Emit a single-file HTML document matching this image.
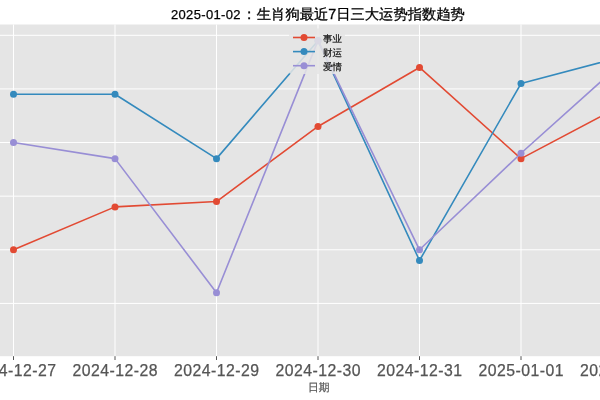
<!DOCTYPE html>
<html><head><meta charset="utf-8"><style>
html,body{margin:0;padding:0;background:#fff;width:600px;height:400px;overflow:hidden}
svg{display:block}
text{font-family:"Liberation Sans","WenQuanYi Zen Hei",sans-serif}
.tk{font-size:15.8px;fill:#555;stroke:#555;stroke-width:0.25px}
.xl{font-size:10.8px;fill:#555;stroke:#555;stroke-width:0.2px}
.tt{font-size:13px;fill:#000;stroke:#000;stroke-width:0.25px}
.tt .cj{font-size:14.3px;stroke-width:0.3px}
.lg{font-size:9.5px;fill:#111;stroke:#111;stroke-width:0.2px}
</style></head><body>
<svg width="600" height="400" viewBox="0 0 600 400">
<rect x="-17" y="24.5" width="670" height="331.70" fill="#E5E5E5"/>
<line x1="-17" x2="653" y1="303.40" y2="303.40" stroke="#fff" stroke-width="1"/>
<line x1="-17" x2="653" y1="249.78" y2="249.78" stroke="#fff" stroke-width="1"/>
<line x1="-17" x2="653" y1="196.16" y2="196.16" stroke="#fff" stroke-width="1"/>
<line x1="-17" x2="653" y1="142.54" y2="142.54" stroke="#fff" stroke-width="1"/>
<line x1="-17" x2="653" y1="88.92" y2="88.92" stroke="#fff" stroke-width="1"/>
<line x1="-17" x2="653" y1="35.30" y2="35.30" stroke="#fff" stroke-width="1"/>
<line x1="13.5" x2="13.5" y1="24.5" y2="356.2" stroke="#fff" stroke-width="1"/>
<line x1="115.0" x2="115.0" y1="24.5" y2="356.2" stroke="#fff" stroke-width="1"/>
<line x1="216.5" x2="216.5" y1="24.5" y2="356.2" stroke="#fff" stroke-width="1"/>
<line x1="318.0" x2="318.0" y1="24.5" y2="356.2" stroke="#fff" stroke-width="1"/>
<line x1="419.5" x2="419.5" y1="24.5" y2="356.2" stroke="#fff" stroke-width="1"/>
<line x1="521.0" x2="521.0" y1="24.5" y2="356.2" stroke="#fff" stroke-width="1"/>
<line x1="622.5" x2="622.5" y1="24.5" y2="356.2" stroke="#fff" stroke-width="1"/>
<line x1="13.5" x2="13.5" y1="356.2" y2="360.0" stroke="#555" stroke-width="1"/>
<line x1="115.0" x2="115.0" y1="356.2" y2="360.0" stroke="#555" stroke-width="1"/>
<line x1="216.5" x2="216.5" y1="356.2" y2="360.0" stroke="#555" stroke-width="1"/>
<line x1="318.0" x2="318.0" y1="356.2" y2="360.0" stroke="#555" stroke-width="1"/>
<line x1="419.5" x2="419.5" y1="356.2" y2="360.0" stroke="#555" stroke-width="1"/>
<line x1="521.0" x2="521.0" y1="356.2" y2="360.0" stroke="#555" stroke-width="1"/>
<line x1="622.5" x2="622.5" y1="356.2" y2="360.0" stroke="#555" stroke-width="1"/>
<polyline points="13.50,249.78 115.00,206.88 216.50,201.52 318.00,126.45 419.50,67.47 521.00,158.63 622.50,105.01" fill="none" stroke="#E24A33" stroke-width="1.6" stroke-linejoin="round" stroke-linecap="butt"/>
<circle cx="13.50" cy="249.78" r="3.5" fill="#E24A33"/>
<circle cx="115.00" cy="206.88" r="3.5" fill="#E24A33"/>
<circle cx="216.50" cy="201.52" r="3.5" fill="#E24A33"/>
<circle cx="318.00" cy="126.45" r="3.5" fill="#E24A33"/>
<circle cx="419.50" cy="67.47" r="3.5" fill="#E24A33"/>
<circle cx="521.00" cy="158.63" r="3.5" fill="#E24A33"/>
<circle cx="622.50" cy="105.01" r="3.5" fill="#E24A33"/>
<polyline points="13.50,94.28 115.00,94.28 216.50,158.63 318.00,40.66 419.50,260.50 521.00,83.56 622.50,56.75" fill="none" stroke="#348ABD" stroke-width="1.6" stroke-linejoin="round" stroke-linecap="butt"/>
<circle cx="13.50" cy="94.28" r="3.5" fill="#348ABD"/>
<circle cx="115.00" cy="94.28" r="3.5" fill="#348ABD"/>
<circle cx="216.50" cy="158.63" r="3.5" fill="#348ABD"/>
<circle cx="318.00" cy="40.66" r="3.5" fill="#348ABD"/>
<circle cx="419.50" cy="260.50" r="3.5" fill="#348ABD"/>
<circle cx="521.00" cy="83.56" r="3.5" fill="#348ABD"/>
<circle cx="622.50" cy="56.75" r="3.5" fill="#348ABD"/>
<polyline points="13.50,142.54 115.00,158.63 216.50,292.68 318.00,40.66 419.50,249.78 521.00,153.26 622.50,62.11" fill="none" stroke="#988ED5" stroke-width="1.6" stroke-linejoin="round" stroke-linecap="butt"/>
<circle cx="13.50" cy="142.54" r="3.5" fill="#988ED5"/>
<circle cx="115.00" cy="158.63" r="3.5" fill="#988ED5"/>
<circle cx="216.50" cy="292.68" r="3.5" fill="#988ED5"/>
<circle cx="318.00" cy="40.66" r="3.5" fill="#988ED5"/>
<circle cx="419.50" cy="249.78" r="3.5" fill="#988ED5"/>
<circle cx="521.00" cy="153.26" r="3.5" fill="#988ED5"/>
<circle cx="622.50" cy="62.11" r="3.5" fill="#988ED5"/>
<rect x="289" y="28.5" width="56" height="45.5" rx="2.5" fill="#E5E5E5" fill-opacity="0.85"/>
<line x1="293" x2="315" y1="37.5" y2="37.5" stroke="#E24A33" stroke-width="1.6"/>
<circle cx="304" cy="37.5" r="3.5" fill="#E24A33"/>
<text x="323" y="41.8" class="lg cj">事业</text>
<line x1="293" x2="315" y1="51.6" y2="51.6" stroke="#348ABD" stroke-width="1.6"/>
<circle cx="304" cy="51.6" r="3.5" fill="#348ABD"/>
<text x="323" y="55.9" class="lg cj">财运</text>
<line x1="293" x2="315" y1="65.7" y2="65.7" stroke="#988ED5" stroke-width="1.6"/>
<circle cx="304" cy="65.7" r="3.5" fill="#988ED5"/>
<text x="323" y="70.0" class="lg cj">爱情</text>
<text x="13.5" y="375.6" class="tk" text-anchor="middle" textLength="85" lengthAdjust="spacing">2024-12-27</text>
<text x="115.0" y="375.6" class="tk" text-anchor="middle" textLength="85" lengthAdjust="spacing">2024-12-28</text>
<text x="216.5" y="375.6" class="tk" text-anchor="middle" textLength="85" lengthAdjust="spacing">2024-12-29</text>
<text x="318.0" y="375.6" class="tk" text-anchor="middle" textLength="85" lengthAdjust="spacing">2024-12-30</text>
<text x="419.5" y="375.6" class="tk" text-anchor="middle" textLength="85" lengthAdjust="spacing">2024-12-31</text>
<text x="521.0" y="375.6" class="tk" text-anchor="middle" textLength="85" lengthAdjust="spacing">2025-01-01</text>
<text x="622.5" y="375.6" class="tk" text-anchor="middle" textLength="85" lengthAdjust="spacing">2025-01-02</text>
<text x="307.9" y="390.6" class="xl cj">日期</text>
<text y="19.1" class="tt"><tspan x="171" y="18.6" textLength="69.5" lengthAdjust="spacing">2025-01-02</tspan><tspan x="242" y="19.1" class="cj">：</tspan><tspan x="256.8" y="19.1" class="cj">生肖狗最近7日三大运势指数趋势</tspan></text>
</svg>
</body></html>
